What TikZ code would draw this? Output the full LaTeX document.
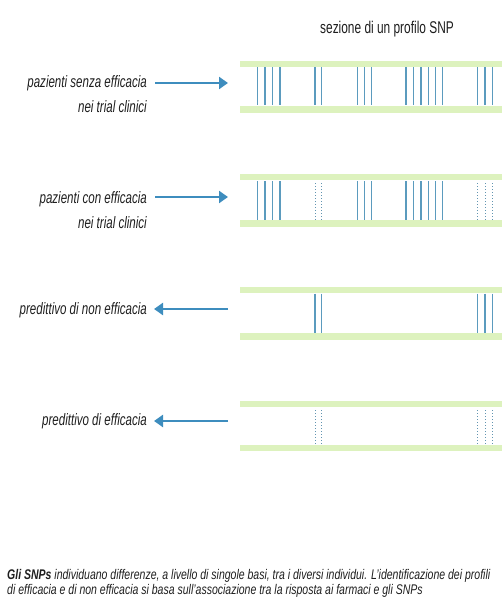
\documentclass[tikz,border=0pt]{standalone}
\usepackage{fontspec}
\setmainfont{Liberation Sans}[FakeStretch=0.70]
\newfontfamily\capfont{Liberation Sans}[FakeStretch=0.75]
\usetikzlibrary{arrows.meta}
\definecolor{band}{HTML}{DDF2BE}
\definecolor{snp}{HTML}{5B9BBE}
\definecolor{arrc}{HTML}{3E8DBE}
\definecolor{txt}{HTML}{1E1E1E}
\tikzset{
  bandline/.style={band, line width=6.5pt},
  snpline/.style={snp, line width=1.1pt},
  snpdot/.style={snp!80!gray, line width=0.9pt, dash pattern=on 1pt off 2pt},
  arr/.style={arrc, line width=2.6pt, -{Triangle[length=9pt,width=12pt]}},
  lbl/.style={text=txt, font=\fontsize{16.5}{25}\selectfont\itshape, align=right, inner sep=0pt},
  captxt/.style={text=txt, font=\capfont\fontsize{14}{15}\selectfont\itshape, align=left, inner sep=0pt, anchor=west},
}
\begin{document}
\begin{tikzpicture}[x=1pt,y=-1pt]
\useasboundingbox (0,0) rectangle (502,604);
% title
\node[lbl, font=\fontsize{17}{18}\selectfont] (title) at (387,29) {sezione di un profilo SNP};
% row positions
\def\xa{257.7,265,272.7,280}
\def\xb{315,321.7}
\def\xc{357.7,364.3,371.7}
\def\xd{406,413.3,421,428.3,435.7,442.3}
\def\xe{477.3,485,492.3}
% row 1
\draw[bandline] (240,64) -- (502,64);
\draw[bandline] (240,109.5) -- (502,109.5);
\foreach \x in \xa {\draw[snpline] (\x,67.5) -- (\x,105);}
\foreach \x in \xb {\draw[snpline] (\x,67.5) -- (\x,105);}
\foreach \x in \xc {\draw[snpline] (\x,67.5) -- (\x,105);}
\foreach \x in \xd {\draw[snpline] (\x,67.5) -- (\x,105);}
\foreach \x in \xe {\draw[snpline] (\x,67.5) -- (\x,105);}
% row 2
\draw[bandline] (240,177) -- (502,177);
\draw[bandline] (240,223.5) -- (502,223.5);
\foreach \x in \xa {\draw[snpline] (\x,181) -- (\x,220);}
\foreach \x in \xb {\draw[snpdot] (\x,183) -- (\x,220);}
\foreach \x in \xc {\draw[snpline] (\x,181) -- (\x,220);}
\foreach \x in \xd {\draw[snpline] (\x,181) -- (\x,220);}
\foreach \x in \xe {\draw[snpdot] (\x,183) -- (\x,220);}
% row 3
\draw[bandline] (240,290) -- (502,290);
\draw[bandline] (240,336.5) -- (502,336.5);
\foreach \x in \xb {\draw[snpline] (\x,293.5) -- (\x,333);}
\foreach \x in \xe {\draw[snpline] (\x,293.5) -- (\x,333);}
% row 4
\draw[bandline] (240,404) -- (502,404);
\draw[bandline] (240,448) -- (502,448);
\foreach \x in \xb {\draw[snpdot] (\x,410) -- (\x,445);}
\foreach \x in \xe {\draw[snpdot] (\x,410) -- (\x,445);}
% labels
\node[lbl, anchor=north east] (l1) at (147,75) {pazienti senza efficacia\\nei trial clinici};
\node[lbl, anchor=north east] (l2) at (147,191) {pazienti con efficacia\\nei trial clinici};
\node[lbl, anchor=east] (l3) at (147,310) {predittivo di non efficacia};
\node[lbl, anchor=east] (l4) at (147,421) {predittivo di efficacia};
% arrow endpoints
\coordinate (s1) at (228,83);
\coordinate (s2) at (228,197);
\coordinate (s3) at (228,309);
\coordinate (s4) at (228,421);
\coordinate (a1) at (155,83);
\coordinate (a2) at (155,197);
\coordinate (e3) at (154,309);
\coordinate (e4) at (154,421);
\draw[arr] (a1) -- (s1);
\draw[arr] (a2) -- (s2);
\draw[arr] (s3) -- (e3);
\draw[arr] (s4) -- (e4);
% caption
\node[captxt] (c1) at (7,576) {\textbf{Gli SNPs} individuano differenze, a livello di singole basi, tra i diversi individui. L’identificazione dei profili};
\node[captxt] (c2) at (7,591) {di efficacia e di non efficacia si basa sull’associazione tra la risposta ai farmaci e gli SNPs};
\end{tikzpicture}
\end{document}
